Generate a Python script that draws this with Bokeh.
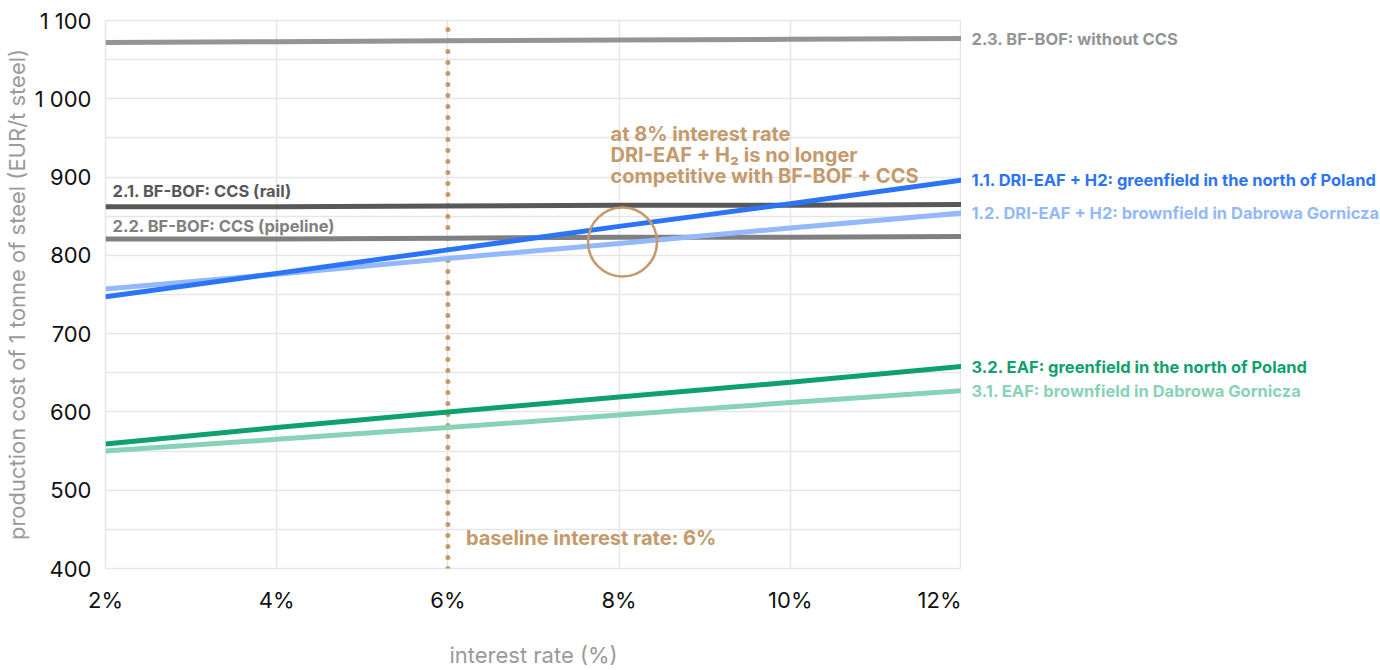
from bokeh.plotting import figure
from bokeh.layouts import row
from bokeh.models import Range1d, FixedTicker, PrintfTickFormatter, Label
from bokeh.core.properties import value
from bokeh.embed import file_html
from bokeh.resources import INLINE

# interest rate (%)
rates = [2, 4, 6, 8, 10, 12]

# production cost of 1 tonne of steel (EUR/t steel)
bfbof_no_ccs = [1072, 1073, 1074, 1075, 1076, 1077]
bfbof_ccs_rail = [862, 862, 863, 864, 864, 865]
bfbof_ccs_pipeline = [821, 821, 822, 823, 823, 824]
dri_greenfield = [747, 777, 807, 837, 866, 896]
dri_brownfield = [757, 776, 796, 815, 835, 854]
eaf_greenfield = [559, 580, 600, 619, 638, 658]
eaf_brownfield = [550, 565, 580, 596, 612, 627]

baseline_rate = 6
highlight_rate = 8.04
highlight_cost = 817

x_ticks = [2, 4, 6, 8, 10, 12]
y_ticks = [400, 500, 600, 700, 800, 900, 1000, 1100]
y_grid = [400, 450, 500, 550, 600, 650, 700, 750, 800, 850, 900, 950, 1000, 1050, 1100]
y_tick_labels = {1000: "1 000", 1100: "1 100"}

FONT = "Inter"
TAN = "#c49a6c"
TICK_SIZE = "22px"
TITLE_SIZE = "22px"
LINE_LABEL_SIZE = "16.5px"
NOTE_SIZE = "20px"

series = [
    ("2.3. BF-BOF: without CCS", bfbof_no_ccs, "#939496", "right", 0),
    ("2.1. BF-BOF: CCS (rail)", bfbof_ccs_rail, "#58585a", "left", 16),
    ("2.2. BF-BOF: CCS (pipeline)", bfbof_ccs_pipeline, "#808082", "left", 13),
    ("1.2. DRI-EAF + H2: brownfield in Dabrowa Gornicza", dri_brownfield, "#93b9fb", "right", 0),
    ("1.1. DRI-EAF + H2: greenfield in the north of Poland", dri_greenfield, "#2b74f6", "right", 0),
    ("3.1. EAF: brownfield in Dabrowa Gornicza", eaf_brownfield, "#88d3b5", "right", 0),
    ("3.2. EAF: greenfield in the north of Poland", eaf_greenfield, "#0fa16d", "right", 0),
]

y_range = Range1d(400, 1100)


def style_x_axis(fig, hidden=False):
    ax = fig.xaxis
    ax.axis_line_color = None
    ax.major_tick_line_color = None
    ax.minor_tick_line_color = None
    ax.major_tick_out = 0
    ax.major_tick_in = 0
    ax.major_label_text_font = FONT
    ax.major_label_text_font_size = TICK_SIZE
    ax.major_label_text_color = "#111111"
    ax.axis_label = "interest rate (%)"
    ax.axis_label_text_font = FONT
    ax.axis_label_text_font_size = TITLE_SIZE
    ax.axis_label_text_font_style = "normal"
    ax.axis_label_text_color = "#9a9a9a"
    ax.major_label_standoff = 18
    ax.axis_label_standoff = 26
    if hidden:
        ax.major_label_text_alpha = 0
        ax.axis_label_text_alpha = 0


p = figure(
    width=961, height=670,
    x_range=Range1d(2, 12), y_range=y_range,
    output_backend="svg", toolbar_location=None,
    min_border_left=105, min_border_right=0,
    min_border_top=20, min_border_bottom=102,
)
p.background_fill_color = "white"
p.border_fill_color = "white"
p.outline_line_color = "#e6e6e6"
p.outline_line_width = 1.5

# grid
p.xgrid.ticker = FixedTicker(ticks=x_ticks)
p.ygrid.ticker = FixedTicker(ticks=y_grid)
for g in (p.xgrid, p.ygrid):
    g.grid_line_color = "#e6e6e6"
    g.grid_line_width = 1.5

# axes
p.xaxis.ticker = FixedTicker(ticks=x_ticks)
p.xaxis.formatter = PrintfTickFormatter(format="%d%%")
style_x_axis(p)

p.yaxis.ticker = FixedTicker(ticks=y_ticks)
p.yaxis.major_label_overrides = y_tick_labels
ya = p.yaxis
ya.axis_line_color = None
ya.major_tick_line_color = None
ya.minor_tick_line_color = None
ya.major_tick_out = 0
ya.major_tick_in = 0
ya.major_label_text_font = FONT
ya.major_label_text_font_size = TICK_SIZE
ya.major_label_text_color = "#111111"
ya.axis_label = "production cost of 1 tonne of steel (EUR/t steel)"
ya.axis_label_text_font = FONT
ya.axis_label_text_font_size = TITLE_SIZE
ya.axis_label_text_font_style = "normal"
ya.axis_label_text_color = "#9a9a9a"
ya.major_label_standoff = 14
ya.axis_label_standoff = 2

# side panel holding the end-of-line labels
side = figure(
    width=419, height=670,
    x_range=Range1d(0, 1), y_range=y_range,
    output_backend="svg", toolbar_location=None,
    min_border_left=0, min_border_right=0,
    min_border_top=20, min_border_bottom=102,
)
side.outline_line_color = None
side.grid.visible = False
side.yaxis.visible = False
side.xaxis.ticker = FixedTicker(ticks=[0.5])
side.xaxis.major_label_overrides = {0.5: "2%"}
style_x_axis(side, hidden=True)

# baseline interest-rate marker
p.line([baseline_rate, baseline_rate], [400, 1100], line_color=TAN,
       line_width=5, line_dash="0 11", line_cap="round")

# cost curves with direct labels
for name, vals, color, where, lift in series:
    p.line(rates, vals, line_color=color, line_width=5)
    if where == "right":
        side.text(x=[0], y=[vals[-1]], text=[name], x_offset=10,
                  text_baseline="middle", text_align="left",
                  text_font=value(FONT), text_font_size=LINE_LABEL_SIZE,
                  text_font_style="bold", text_color=color)
    else:
        p.text(x=[rates[0]], y=[vals[0]], text=[name], x_offset=7, y_offset=-lift,
               text_baseline="middle", text_align="left",
               text_font=value(FONT), text_font_size=LINE_LABEL_SIZE,
               text_font_style="bold", text_color=color)

# highlight of the crossing point
p.scatter([highlight_rate], [highlight_cost], marker="circle", size=69,
          fill_color=None, line_color=TAN, line_width=2.5)

note_lines = ["at 8% interest rate",
              "DRI-EAF + H\u2082 is no longer",
              "competitive with BF-BOF + CCS"]
for i, line in enumerate(note_lines):
    p.add_layout(Label(
        x=highlight_rate, y=highlight_cost, x_offset=-12, y_offset=108 - 21 * i,
        text=line, text_baseline="middle", text_align="left",
        text_font=FONT, text_font_size=NOTE_SIZE, text_font_style="bold",
        text_color=TAN))

p.add_layout(Label(
    x=baseline_rate, y=400, x_offset=18, y_offset=31,
    text="baseline interest rate: 6%",
    text_baseline="middle", text_align="left",
    text_font=FONT, text_font_size=NOTE_SIZE, text_font_style="bold",
    text_color=TAN))

layout = row(p, side)
open("out.html", "w").write(file_html(layout, INLINE))
